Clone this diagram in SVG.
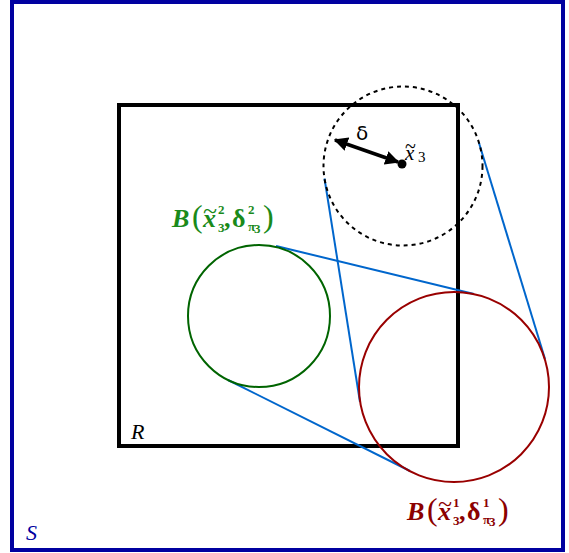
<svg xmlns="http://www.w3.org/2000/svg" width="569" height="553" viewBox="0 0 569 553">
<style>
.s{font-family:"Liberation Serif",serif}
.b{font-family:"Liberation Serif",serif;font-weight:bold}
.big{font-size:26px}
.i{font-style:italic}
.par{font-family:"Liberation Serif",serif;font-size:32px}
.sup{font-family:"Liberation Serif",serif;font-weight:bold;font-size:13px}
.tan{stroke:#0066cc;stroke-width:2;fill:none}
</style>
<defs>
<marker id="ah" viewBox="0 0 10 10" refX="9" refY="5" markerWidth="4" markerHeight="4" orient="auto-start-reverse"><path d="M0,0 L10,5 L0,10 z" fill="#000"/></marker>
</defs>
<rect width="569" height="553" fill="#fff"/>
<g id="S">
<rect x="12" y="2" width="551" height="548" fill="none" stroke="#0000a0" stroke-width="4"/>
<text x="26" y="540" class="s i" font-size="22" fill="#0000a0">S</text>
</g>
<g id="R">
<rect x="119" y="105" width="339" height="341" fill="none" stroke="#000" stroke-width="4"/>
<text x="131" y="439" class="s i" font-size="22" fill="#000">R</text>
</g>
<g id="connectors">
<line class="tan" x1="479" y1="143" x2="545" y2="359"/>
<line class="tan" x1="324.5" y1="178.5" x2="360" y2="402"/>
<line class="tan" x1="276" y1="246" x2="474" y2="294"/>
<line class="tan" x1="228" y1="380" x2="410" y2="471"/>
</g>
<g id="ball0">
<circle cx="403" cy="166" r="79.5" fill="none" stroke="#000" stroke-width="2" stroke-dasharray="4,4"/>
<line x1="335" y1="140" x2="398" y2="162" stroke="#000" stroke-width="3.5" marker-start="url(#ah)" marker-end="url(#ah)"/>
<circle cx="402" cy="164" r="4.5" fill="#000"/>
<text x="356" y="140" font-family="DejaVu Sans,sans-serif" font-size="20" fill="#000">δ</text>
<text x="405" y="160" class="s i" font-size="21" fill="#000">x</text>
<text x="405" y="153" class="s" font-size="20" fill="#000">~</text>
<text x="418" y="162" class="s" font-size="15" fill="#000">3</text>
</g>
<g id="ball2" fill="#1a8a1a">
<circle cx="259" cy="316" r="71" fill="none" stroke="#006400" stroke-width="2"/>
<text x="172" y="227" class="b i big">B</text>
<text x="192" y="227" class="par">(</text>
<text x="203" y="227" class="b i big">x</text>
<text x="203" y="219" class="s" font-size="26">~</text>
<text x="218" y="214" class="sup">2</text>
<text x="218" y="232" class="sup" font-size="11">3</text>
<text x="224" y="227" class="b big">,</text>
<text x="232" y="227" class="b big">δ</text>
<text x="248" y="214" class="sup">2</text>
<text x="248" y="231" class="sup" font-size="10">π</text>
<text x="254" y="233" class="sup" font-size="6">3</text>
<text x="263" y="227" class="par">)</text>
</g>
<g id="ball1" fill="#8b0000">
<circle cx="454" cy="387" r="95" fill="none" stroke="#990000" stroke-width="2"/>
<text x="407" y="520" class="b i big">B</text>
<text x="427" y="520" class="par">(</text>
<text x="438" y="520" class="b i big">x</text>
<text x="438" y="512" class="s" font-size="26">~</text>
<text x="453" y="507" class="sup">1</text>
<text x="453" y="525" class="sup" font-size="11">3</text>
<text x="459" y="520" class="b big">,</text>
<text x="467" y="520" class="b big">δ</text>
<text x="483" y="507" class="sup">1</text>
<text x="483" y="524" class="sup" font-size="10">π</text>
<text x="489" y="526" class="sup" font-size="6">3</text>
<text x="498" y="520" class="par">)</text>
</g>
</svg>
